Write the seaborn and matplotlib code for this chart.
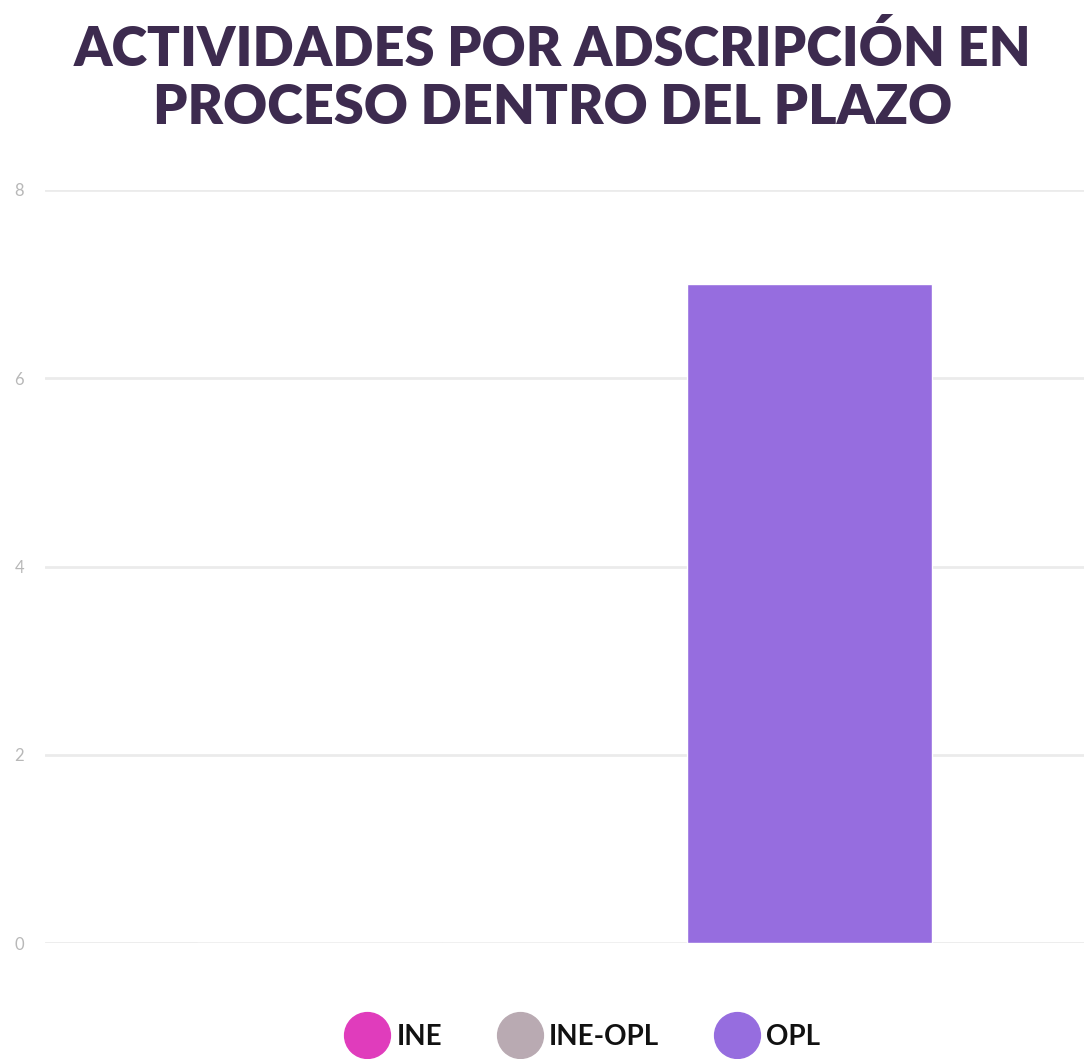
import pandas as pd
import seaborn as sns
import matplotlib.pyplot as plt
from matplotlib.lines import Line2D

# actividades en proceso dentro del plazo, por adscripcion
adscripcion = ['INE', 'INE-OPL', 'OPL']
actividades = [0, 0, 7]
colores = ['#e03cbc', '#b9aab2', '#966ddf']
grupo = ['', '', '']

data = pd.DataFrame({'grupo': grupo, 'adscripcion': adscripcion, 'actividades': actividades})

sns.set_style('white')
plt.rcParams['font.family'] = ['Lato', 'DejaVu Sans']

fig = plt.figure(figsize=(10.84, 10.59), dpi=100)
ax = fig.add_axes([0.0415, 0.1095, 0.9585, 0.7111])

sns.barplot(data=data, x='grupo', y='actividades', hue='adscripcion',
            palette=colores, saturation=1, width=0.8, legend=False, ax=ax)

ax.set_xlim(-0.565, 0.565)
ax.set_ylim(0, 8)
ax.set_yticks([0, 2, 4, 6, 8])
ax.yaxis.grid(True, color='#ebebeb', linewidth=2)
ax.set_axisbelow(True)
for s in ax.spines.values():
    s.set_visible(False)
ax.tick_params(axis='y', length=0, pad=15, labelsize=12, labelcolor='#b8b8b8')
ax.tick_params(axis='x', length=6, color='#f0f0f0', labelbottom=False)
ax.set_xlabel('')
ax.set_ylabel('')

fig.text(0.51, 0.978, 'ACTIVIDADES POR ADSCRIPCIÓN EN\nPROCESO DENTRO DEL PLAZO',
         ha='center', va='top', fontsize=39, fontweight='heavy', color='#3d2b4f',
         linespacing=1.2)

handles = [Line2D([0], [0], marker='o', linestyle='', markersize=33,
                  markerfacecolor=c, markeredgecolor=c) for c in colores]
fig.legend(handles, adscripcion, loc='lower center', bbox_to_anchor=(0.535, -0.015),
           ncol=3, frameon=False, handletextpad=0.05, columnspacing=1.8,
           labelcolor='#111111', prop={'weight': 'bold', 'size': 20})

fig.savefig('out.png', dpi=100, facecolor='white')
